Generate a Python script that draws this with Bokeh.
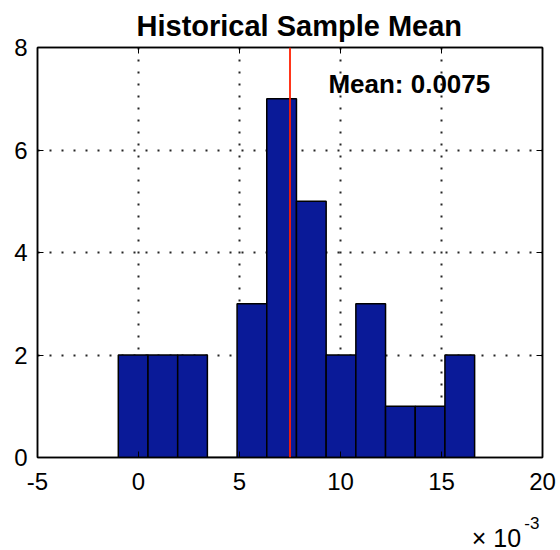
from bokeh.plotting import figure
from bokeh.models import Range1d, LinearAxis, Span, Label, FixedTicker
from bokeh.layouts import column
from bokeh.core.properties import value
from bokeh.embed import file_html
from bokeh.resources import INLINE

# Histogram data (x in units of 1e-3)
bin_edges = [-1.0, 0.47, 1.94, 3.41, 4.88, 6.35, 7.82, 9.29, 10.76, 12.23, 13.70, 15.17, 16.64]
counts = [2, 2, 2, 0, 3, 7, 5, 2, 3, 1, 1, 2]
mean_value = 7.5  # x 1e-3
mean_label = "Mean: 0.0075"
x_ticks = [-5, 0, 5, 10, 15, 20]
x_tick_labels = ["-5", "0", "5", "10", "15", "20"]
y_ticks = [0, 2, 4, 6, 8]
title_text = "Historical Sample Mean"
scale_text = "\u00d7 10"
scale_exp = "-3"

FONT = "Liberation Sans"
X0, X1 = -5, 20

p = figure(width=560, height=500, output_backend="svg", toolbar_location=None,
           x_range=Range1d(X0, X1), y_range=Range1d(0, 8),
           min_border_left=37, min_border_right=18, min_border_top=47, min_border_bottom=43)

p.title.text = title_text
p.title.align = "left"
p.title.offset = 99
p.title.standoff = 8
p.title.vertical_align = "top"
p.title.text_line_height = 0.78
p.title.text_font = FONT
p.title.text_font_size = "29px"
p.title.text_font_style = "bold"
p.title.text_color = "black"

left = bin_edges[:-1]
right = bin_edges[1:]
p.quad(left=left, right=right, bottom=0, top=counts,
       fill_color="#0A1A98", line_color="black", line_width=1.5)

p.add_layout(Span(location=mean_value, dimension="height", line_color="#FF2000", line_width=1.8))

p.add_layout(Label(x=9.40, y=7.28, text=mean_label, text_font=FONT, text_font_size="26px",
                   text_font_style="bold", text_color="black", text_baseline="alphabetic"))

for ax in [p.xaxis[0], p.yaxis[0]]:
    ax.major_tick_in = 6
    ax.major_tick_out = 0
    ax.minor_tick_in = 0
    ax.minor_tick_out = 0
    ax.axis_line_color = "black"
    ax.axis_line_width = 1.5
    ax.major_tick_line_color = "black"
    ax.major_label_text_font = FONT
    ax.major_label_text_font_size = "24px"
    ax.major_label_text_color = "black"
    ax.major_label_standoff = 10

p.xaxis[0].major_label_standoff = 15
p.xaxis[0].ticker = FixedTicker(ticks=x_ticks)
p.xaxis[0].major_label_overrides = {t_: s for t_, s in zip(x_ticks, x_tick_labels)}
p.yaxis[0].ticker = FixedTicker(ticks=y_ticks)

top_ax = LinearAxis(ticker=FixedTicker(ticks=x_ticks), major_tick_in=6, major_tick_out=0,
                    minor_tick_in=0, minor_tick_out=0,
                    major_label_overrides={t_: "" for t_ in x_ticks},
                    axis_line_color="black", axis_line_width=1.5, major_label_standoff=0)
right_ax = LinearAxis(ticker=FixedTicker(ticks=y_ticks), major_tick_in=6, major_tick_out=0,
                      minor_tick_in=0, minor_tick_out=0,
                      major_label_overrides={t_: "" for t_ in y_ticks},
                      axis_line_color="black", axis_line_width=1.5, major_label_standoff=0)
p.add_layout(top_ax, "above")
p.add_layout(right_ax, "right")

p.xgrid.ticker = FixedTicker(ticks=x_ticks)
p.ygrid.ticker = FixedTicker(ticks=y_ticks)
for g in [p.xgrid[0], p.ygrid[0]]:
    g.grid_line_color = "black"
    g.grid_line_width = 2
    g.grid_line_dash = "2 10"
    g.grid_line_alpha = 0.85

p.outline_line_color = "black"
p.outline_line_width = 1.5
p.background_fill_color = "white"
p.border_fill_color = "white"

# Bottom strip holding the axis multiplier "x 10^-3"
q = figure(width=560, height=50, output_backend="svg", toolbar_location=None,
           x_range=Range1d(X0, X1), y_range=Range1d(0, 50),
           min_border_left=37, min_border_right=18, min_border_top=0, min_border_bottom=0)
q.axis.visible = False
q.grid.visible = False
q.outline_line_color = None
q.text(x=[16.5], y=[13], text=[scale_text], text_font=value(FONT), text_font_size="25px",
       text_color="black", text_baseline="alphabetic", text_align="left")
q.text(x=[19.1], y=[28], text=[scale_exp], text_font=value(FONT), text_font_size="17px",
       text_color="black", text_baseline="alphabetic", text_align="left")

layout = column(p, q, spacing=0)
open("out.html", "w").write(file_html(layout, INLINE))
